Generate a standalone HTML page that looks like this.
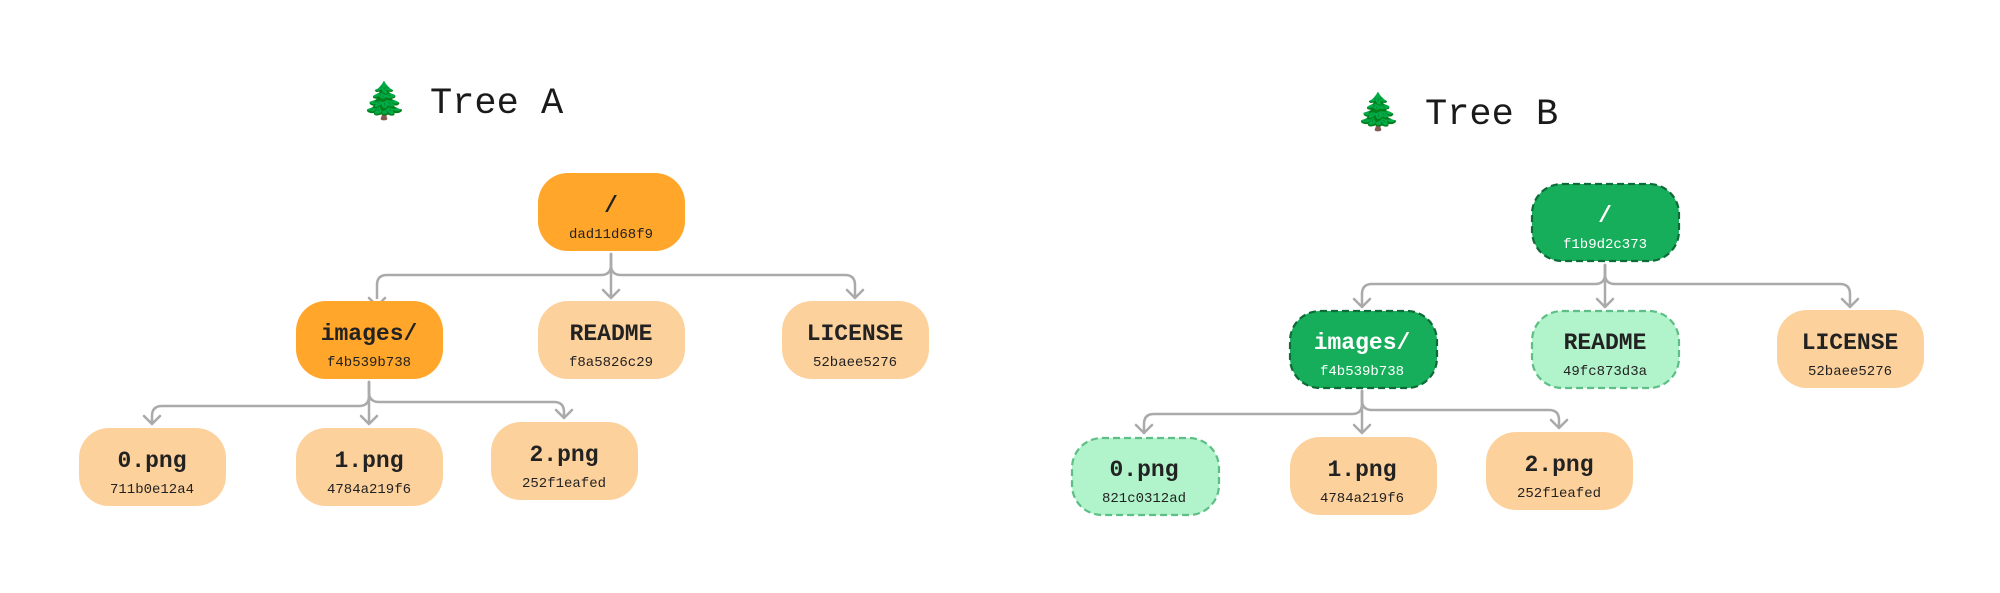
<!DOCTYPE html>
<html><head><meta charset="utf-8"><style>
html,body{margin:0;padding:0;background:#fff;}
svg{display:block;}
.t{font-family:"Liberation Mono",monospace;fill:#222;}
.lab{font-size:23px;font-weight:bold;}
.h{font-size:14px;}
.ttl{font-family:"Liberation Mono",monospace;font-size:37px;fill:#1a1a1a;}
.c{fill:none;stroke:#aaa;stroke-width:2.5;stroke-linecap:round;stroke-linejoin:round;}
</style></head><body>
<svg width="2000" height="593" viewBox="0 0 2000 593" xmlns="http://www.w3.org/2000/svg">
<defs>
<g id="tree">
<rect x="-8" y="-20" width="16" height="40" fill="none"/>
</g>
</defs>
<!-- Titles -->
<text x="362" y="113" font-size="36" font-family="'Noto Color Emoji','DejaVu Sans',sans-serif" fill="#1e8a3a">🌲</text>
<text class="ttl" x="430" y="113">Tree A</text>
<text x="1356" y="124" font-size="36" font-family="'Noto Color Emoji','DejaVu Sans',sans-serif" fill="#1e8a3a">🌲</text>
<text class="ttl" x="1425" y="124">Tree B</text>

<!-- Tree A connectors -->
<path class="c" d="M611 254 V265 Q611 275 601 275 H387 Q377 275 377 285 V298 M369 298 l8 8 l8 -8"/>
<path class="c" d="M611 254 V298 M603 290 l8 8 l8 -8"/>
<path class="c" d="M611 254 V265 Q611 275 621 275 H845 Q855 275 855 285 V298 M847 290 l8 8 l8 -8"/>
<path class="c" d="M369 382 V396 Q369 406 359 406 H162 Q152 406 152 416 V424 M144 416 l8 8 l8 -8"/>
<path class="c" d="M369 382 V424 M361 416 l8 8 l8 -8"/>
<path class="c" d="M369 382 V392 Q369 402 379 402 H554 Q564 402 564 412 V418 M556 410 l8 8 l8 -8"/>
<path class="c" d="M369 298" />

<!-- Tree A nodes -->
<rect x="538" y="173" width="147" height="78" rx="30" fill="#FFA62B"/>
<text class="t lab" x="611" y="212" text-anchor="middle">/</text>
<text class="t h" x="611" y="238" text-anchor="middle">dad11d68f9</text>

<rect x="296" y="301" width="147" height="78" rx="30" fill="#FFA62B"/>
<text class="t lab" x="369" y="340" text-anchor="middle">images/</text>
<text class="t h" x="369" y="366" text-anchor="middle">f4b539b738</text>

<rect x="538" y="301" width="147" height="78" rx="30" fill="#FDD19C"/>
<text class="t lab" x="611" y="340" text-anchor="middle">README</text>
<text class="t h" x="611" y="366" text-anchor="middle">f8a5826c29</text>

<rect x="782" y="301" width="147" height="78" rx="30" fill="#FDD19C"/>
<text class="t lab" x="855" y="340" text-anchor="middle">LICENSE</text>
<text class="t h" x="855" y="366" text-anchor="middle">52baee5276</text>

<rect x="79" y="428" width="147" height="78" rx="30" fill="#FDD19C"/>
<text class="t lab" x="152" y="467" text-anchor="middle">0.png</text>
<text class="t h" x="152" y="493" text-anchor="middle">711b0e12a4</text>

<rect x="296" y="428" width="147" height="78" rx="30" fill="#FDD19C"/>
<text class="t lab" x="369" y="467" text-anchor="middle">1.png</text>
<text class="t h" x="369" y="493" text-anchor="middle">4784a219f6</text>

<rect x="491" y="422" width="147" height="78" rx="30" fill="#FDD19C"/>
<text class="t lab" x="564" y="461" text-anchor="middle">2.png</text>
<text class="t h" x="564" y="487" text-anchor="middle">252f1eafed</text>

<!-- Tree B connectors -->
<path class="c" d="M1605 265 V274 Q1605 284 1595 284 H1372 Q1362 284 1362 294 V307 M1354 299 l8 8 l8 -8"/>
<path class="c" d="M1605 265 V307 M1597 299 l8 8 l8 -8"/>
<path class="c" d="M1605 265 V274 Q1605 284 1615 284 H1840 Q1850 284 1850 294 V307 M1842 299 l8 8 l8 -8"/>
<path class="c" d="M1362 391 V404 Q1362 414 1352 414 H1154 Q1144 414 1144 424 V433 M1136 425 l8 8 l8 -8"/>
<path class="c" d="M1362 391 V433 M1354 425 l8 8 l8 -8"/>
<path class="c" d="M1362 391 V400 Q1362 410 1372 410 H1549 Q1559 410 1559 420 V428 M1551 420 l8 8 l8 -8"/>

<!-- Tree B nodes -->
<rect x="1532" y="184" width="147" height="77" rx="30" fill="#16AE5A" stroke="#0E6B38" stroke-width="2.2" stroke-dasharray="7 4"/>
<text class="t lab" x="1605" y="222" text-anchor="middle" style="fill:#fff">/</text>
<text class="t h" x="1605" y="248" text-anchor="middle" style="fill:#fff">f1b9d2c373</text>

<rect x="1290" y="311" width="147" height="77" rx="30" fill="#16AE5A" stroke="#0E6B38" stroke-width="2.2" stroke-dasharray="7 4"/>
<text class="t lab" x="1362" y="349" text-anchor="middle" style="fill:#fff">images/</text>
<text class="t h" x="1362" y="375" text-anchor="middle" style="fill:#fff">f4b539b738</text>

<rect x="1532" y="311" width="147" height="77" rx="30" fill="#B1F3CA" stroke="#5DBF85" stroke-width="2.2" stroke-dasharray="7 4"/>
<text class="t lab" x="1605" y="349" text-anchor="middle">README</text>
<text class="t h" x="1605" y="375" text-anchor="middle">49fc873d3a</text>

<rect x="1777" y="310" width="147" height="78" rx="30" fill="#FDD19C"/>
<text class="t lab" x="1850" y="349" text-anchor="middle">LICENSE</text>
<text class="t h" x="1850" y="375" text-anchor="middle">52baee5276</text>

<rect x="1072" y="438" width="147" height="77" rx="30" fill="#B1F3CA" stroke="#5DBF85" stroke-width="2.2" stroke-dasharray="7 4"/>
<text class="t lab" x="1144" y="476" text-anchor="middle">0.png</text>
<text class="t h" x="1144" y="502" text-anchor="middle">821c0312ad</text>

<rect x="1290" y="437" width="147" height="78" rx="30" fill="#FDD19C"/>
<text class="t lab" x="1362" y="476" text-anchor="middle">1.png</text>
<text class="t h" x="1362" y="502" text-anchor="middle">4784a219f6</text>

<rect x="1486" y="432" width="147" height="78" rx="30" fill="#FDD19C"/>
<text class="t lab" x="1559" y="471" text-anchor="middle">2.png</text>
<text class="t h" x="1559" y="497" text-anchor="middle">252f1eafed</text>
</svg>
</body></html>
